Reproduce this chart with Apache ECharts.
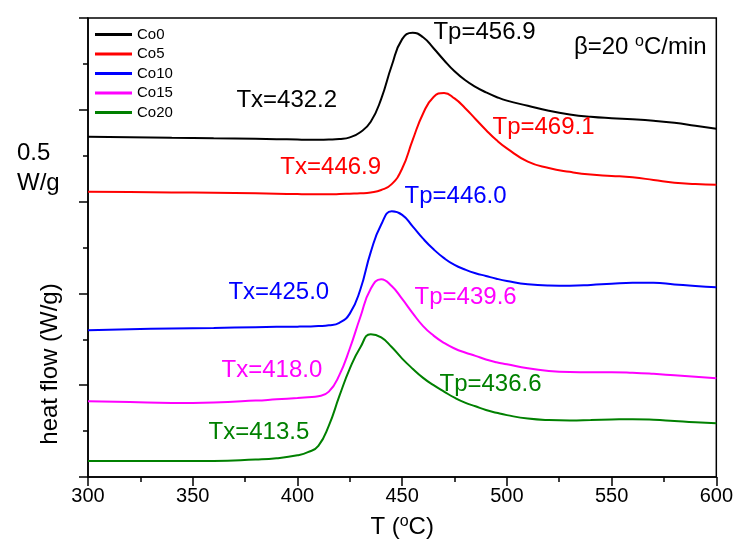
<!DOCTYPE html>
<html><head><meta charset="utf-8">
<script src="https://cdn.jsdelivr.net/npm/echarts@6/dist/echarts.min.js"></script>
<style>html,body{margin:0;padding:0;background:#fff}#c{width:736px;height:545px}</style>
</head><body><div id="c"></div>
<script>
// Temperature (°C) vs heat flow (W/g, offset traces)
const seriesNames = ['Co0', 'Co5', 'Co10', 'Co15', 'Co20'];
const seriesColors = ['#000000', '#ff0000', '#0000ff', '#ff00ff', '#008000'];
const xTicks = [300, 350, 400, 450, 500, 550, 600];

const temps = [300,320,340,360,380,390,400,405,410,415,420,425,430,435,440,445,450,455,460,465,470,475,480,485,490,495,500,510,520,530,540,550,560,570,580,590,600];
const co0  = [1.853,1.851,1.848,1.845,1.842,1.840,1.838,1.837,1.837,1.838,1.841,1.850,1.878,1.935,2.060,2.240,2.385,2.420,2.395,2.335,2.270,2.210,2.162,2.125,2.095,2.070,2.050,2.022,1.995,1.975,1.962,1.954,1.948,1.940,1.929,1.913,1.897];
const co5  = [1.554,1.552,1.550,1.548,1.545,1.543,1.541,1.540,1.540,1.540,1.541,1.543,1.545,1.550,1.563,1.595,1.680,1.835,1.980,2.070,2.092,2.062,2.010,1.950,1.890,1.835,1.790,1.718,1.683,1.662,1.647,1.640,1.632,1.618,1.603,1.596,1.592];
const co10 = [0.799,0.805,0.809,0.812,0.816,0.818,0.819,0.820,0.822,0.826,0.840,0.890,1.020,1.225,1.375,1.447,1.428,1.365,1.298,1.240,1.192,1.155,1.130,1.110,1.095,1.080,1.068,1.050,1.043,1.042,1.046,1.053,1.058,1.058,1.049,1.040,1.033];
const co15 = [0.413,0.408,0.403,0.406,0.416,0.423,0.430,0.434,0.440,0.465,0.555,0.700,0.870,1.025,1.077,1.040,0.970,0.893,0.822,0.770,0.730,0.700,0.678,0.660,0.640,0.625,0.614,0.592,0.578,0.572,0.571,0.571,0.568,0.562,0.554,0.546,0.538];
const co20 = [0.087,0.087,0.087,0.087,0.095,0.102,0.118,0.135,0.170,0.280,0.440,0.590,0.705,0.778,0.760,0.708,0.645,0.590,0.540,0.500,0.465,0.432,0.405,0.385,0.365,0.350,0.337,0.318,0.310,0.308,0.310,0.313,0.315,0.312,0.305,0.298,0.293];
const seriesValues = [co0, co5, co10, co15, co20];

// annotation text and its anchor in data coordinates
const annotations = [
  ['Co0', 'Tx=432.2', [394.9, 2.049]],
  ['Co0', 'Tp=456.9', [489.3, 2.424]],
  ['Co5', 'Tx=446.9', [415.9, 1.685]],
  ['Co5', 'Tp=469.1', [517.5, 1.902]],
  ['Co10', 'Tp=446.0', [475.5, 1.527]],
  ['Co10', 'Tx=425.0', [391.1, 1.005]],
  ['Co15', 'Tp=439.6', [480.3, 0.978]],
  ['Co15', 'Tx=418.0', [387.8, 0.582]],
  ['Co20', 'Tp=436.6', [492.2, 0.505]],
  ['Co20', 'Tx=413.5', [381.6, 0.245]]
];
const rateNote = { rich: '{n|β=20 }{s|o}{n|C/min}', at: [563.7, 2.342] };

const FONT = '"Liberation Sans", Arial, sans-serif';
const supRich = {
  n: { fontSize: 24, fontFamily: FONT, color: '#000', lineHeight: 26 },
  s: { fontSize: 16, fontFamily: FONT, color: '#000', verticalAlign: 'top', lineHeight: 16, padding: [0, 0, 10, 0] }
};
const chart = echarts.init(document.getElementById('c'));

const series = seriesNames.map((name, i) => {
  const mp = annotations.filter(a => a[0] === name).map(a => ({
    coord: a[2], value: a[1],
    label: { formatter: a[1] }
  }));
  if (i === 0) {
    mp.push({ coord: rateNote.at, value: 'rate', label: { formatter: rateNote.rich, color: '#000', rich: supRich } });
  }
  return {
    name, type: 'line', data: temps.map((t, k) => [t, seriesValues[i][k]]),
    showSymbol: false, symbol: 'none', smooth: 0.5,
    lineStyle: { color: seriesColors[i], width: 2 }, itemStyle: { color: seriesColors[i] },
    emphasis: { disabled: true }, silent: true,
    markPoint: {
      symbol: 'circle', symbolSize: 1, silent: true,
      itemStyle: { color: 'transparent' },
      label: { show: true, position: 'inside', fontSize: 24, fontFamily: FONT, color: seriesColors[i] },
      data: mp
    }
  };
});

chart.setOption({
  animation: false,
  backgroundColor: '#fff',
  grid: { left: 88, right: 19, top: 18, bottom: 67, show: true, borderColor: '#000', borderWidth: 1.5, backgroundColor: 'transparent' },
  legend: {
    orient: 'vertical', left: 90, top: 22, icon: 'rect', itemWidth: 37, itemHeight: 3, itemGap: 4.5,
    textStyle: { fontSize: 15, fontFamily: FONT, color: '#000', lineHeight: 15 },
    data: seriesNames, selectedMode: false
  },
  xAxis: {
    type: 'value', min: xTicks[0], max: xTicks[xTicks.length - 1], interval: xTicks[1] - xTicks[0],
    name: '{n|T (}{s|o}{n|C)}', nameLocation: 'middle', nameGap: 37,
    nameTextStyle: { rich: supRich },
    axisLine: { show: true, lineStyle: { color: '#000', width: 1.5 } },
    axisTick: { show: true, inside: false, length: 9, lineStyle: { color: '#000', width: 1.5 } },
    minorTick: { show: true, splitNumber: 2, length: 5, lineStyle: { color: '#000', width: 1.5 } },
    splitLine: { show: false },
    axisLabel: { fontSize: 20, fontFamily: FONT, color: '#000', margin: 9 }
  },
  yAxis: {
    type: 'value', min: 0, max: 2.5, interval: 0.5,
    axisLine: { show: true, lineStyle: { color: '#000', width: 1.5 } },
    axisTick: { show: true, inside: false, length: 9, lineStyle: { color: '#000', width: 1.5 } },
    minorTick: { show: true, splitNumber: 2, length: 5, lineStyle: { color: '#000', width: 1.5 } },
    splitLine: { show: false },
    axisLabel: { show: false }
  },
  graphic: [
    { type: 'text', x: 50, y: 364, rotation: Math.PI / 2,
      style: { text: 'heat flow (W/g)', fontSize: 24, fontFamily: FONT, fill: '#000', textAlign: 'center', textVerticalAlign: 'middle' } },
    { type: 'text', x: 17, y: 153,
      style: { text: '0.5', fontSize: 24, fontFamily: FONT, fill: '#000', textAlign: 'left', textVerticalAlign: 'middle' } },
    { type: 'text', x: 17, y: 183,
      style: { text: 'W/g', fontSize: 24, fontFamily: FONT, fill: '#000', textAlign: 'left', textVerticalAlign: 'middle' } }
  ],
  series
});
</script></body></html>
